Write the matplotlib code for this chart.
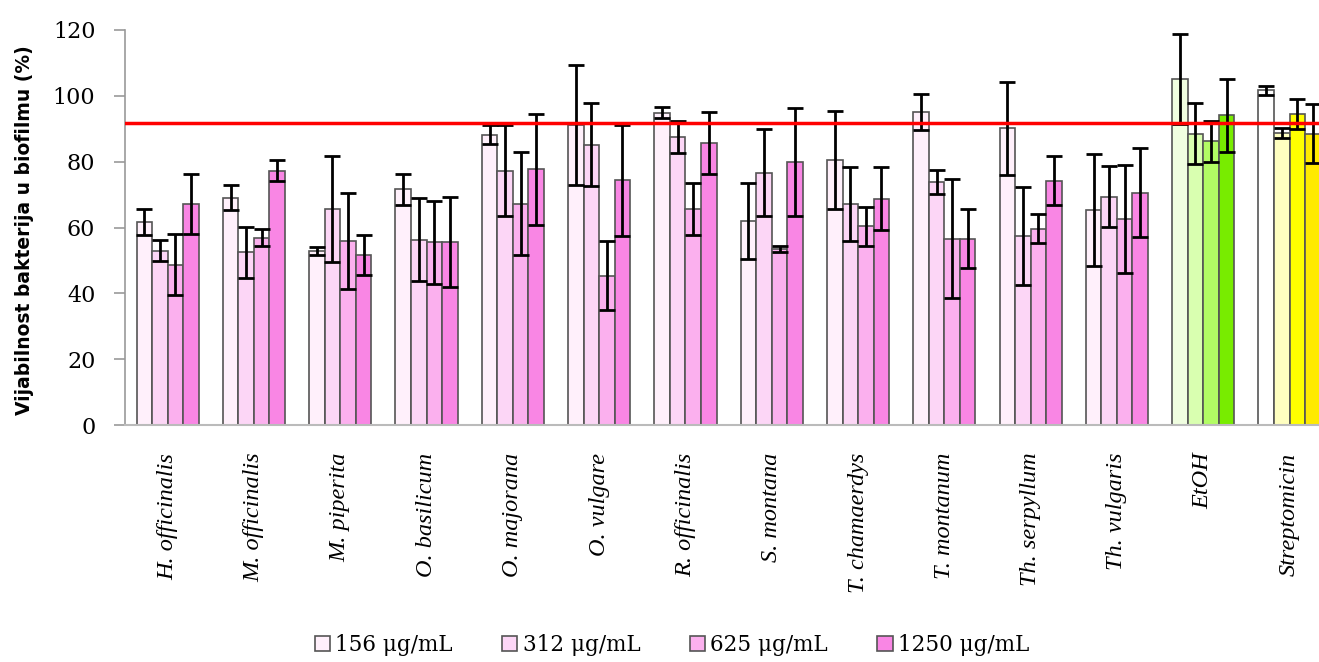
import numpy as np
import matplotlib
matplotlib.use("Agg")
import matplotlib.pyplot as plt

categories = ["H. officinalis", "M. officinalis", "M. piperita", "O. basilicum",
              "O. majorana", "O. vulgare", "R. officinalis", "S. montana",
              "T. chamaerdys", "T. montanum", "Th. serpyllum", "Th. vulgaris",
              "EtOH", "Streptomicin"]

series_labels = ["156 μg/mL", "312 μg/mL", "625 μg/mL", "1250 μg/mL"]

v156 = [61.6, 69.0, 52.9, 71.6, 88.2, 91.2, 94.9, 61.9, 80.6, 95.0, 90.1, 65.3, 105.1, 101.7]
e156 = [4.0, 3.8, 1.3, 4.7, 2.8, 18.2, 1.7, 11.6, 14.9, 5.5, 14.1, 16.9, 13.6, 1.3]
v312 = [53.0, 52.5, 65.6, 56.3, 77.3, 85.2, 87.5, 76.6, 67.2, 73.9, 57.4, 69.4, 88.5, 88.8]
e312 = [3.3, 7.7, 16.0, 12.6, 13.8, 12.6, 5.0, 13.2, 11.3, 3.6, 14.9, 9.4, 9.2, 1.5]
v625 = [48.7, 56.9, 55.9, 55.5, 67.2, 45.4, 65.7, 53.4, 60.4, 56.6, 59.6, 62.6, 86.2, 94.5]
e625 = [9.2, 2.5, 14.7, 12.6, 15.7, 10.4, 7.9, 0.9, 5.9, 18.0, 4.4, 16.3, 6.3, 4.5]
v1250 = [67.2, 77.3, 51.7, 55.5, 77.7, 74.3, 85.6, 79.9, 68.7, 56.6, 74.2, 70.6, 94.1, 88.5]
e1250 = [9.1, 3.2, 6.0, 13.7, 16.9, 16.8, 9.4, 16.3, 9.6, 8.9, 7.4, 13.6, 11.1, 8.9]

threshold = 91.7

pink = ["#FFF0FB", "#FCD6F6", "#FBB0EE", "#F986E4"]
green = ["#F0FEE0", "#D9FFB0", "#B2FC64", "#78EC00"]
yellow = ["#FFFFFF", "#FFFFC0", "#FFFF00", "#FFEA00"]

values = [v156, v312, v625, v1250]
errors = [e156, e312, e625, e1250]

fig = plt.figure(figsize=(13.19, 6.62), dpi=100)
W, H = 1319, 662
ax_left, ax_right = 124.5, 124.5 + 14 * 86.3
ax_top, ax_bottom = 30, 425
ax = fig.add_axes([ax_left / W, 1 - ax_bottom / H,
                   (ax_right - ax_left) / W, (ax_bottom - ax_top) / H])

x = np.arange(len(categories))
bw = 0.18
n = len(categories)
for k in range(4):
    cols = [pink[k]] * (n - 2) + [green[k], yellow[k]]
    ax.bar(x + (k - 1.5) * bw, values[k], bw, color=cols,
           edgecolor="#555555", linewidth=1.2, label=series_labels[k],
           yerr=errors[k], capsize=5.5,
           error_kw=dict(ecolor="black", elinewidth=2, capthick=2),
           zorder=2)

ax.axhline(threshold, color="#FF0000", linewidth=2.5, zorder=3)

ax.set_xlim(-0.5, n - 0.5)
ax.set_ylim(0, 120)
ax.set_yticks(np.arange(0, 121, 20))
for s in ["top", "right"]:
    ax.spines[s].set_visible(False)
ax.spines["left"].set_color("#999999")
ax.spines["bottom"].set_color("#BBBBBB")
ax.spines["left"].set_linewidth(1.2)
ax.spines["bottom"].set_linewidth(1.5)
ax.tick_params(axis="y", direction="out", length=8, color="#999999",
               width=1.2, pad=13)
ax.tick_params(axis="x", length=0, pad=20)
for lbl in ax.get_yticklabels():
    lbl.set_fontfamily("DejaVu Serif")
    lbl.set_fontsize(16)
ax.set_xticks(x)
ax.set_xticklabels(categories, rotation=90, fontfamily="Liberation Serif",
                   fontstyle="italic", fontsize=17.5, va="top", ha="center")

fig.text(25 / W, 1 - 230 / H, "Vijabilnost bakterija u biofilmu (%)",
         rotation=90, ha="center", va="center", fontsize=13.5,
         fontweight="bold", fontfamily="DejaVu Sans")

handles, labels = ax.get_legend_handles_labels()
fig.legend(handles, labels, loc="center", bbox_to_anchor=(672 / W, 1 - 645 / H),
           ncol=4, frameon=False, handlelength=0.7, handleheight=0.7,
           handletextpad=0.25, columnspacing=2.3,
           prop=dict(family="DejaVu Serif", size=15.5))

fig.savefig("out.png", dpi=100)
